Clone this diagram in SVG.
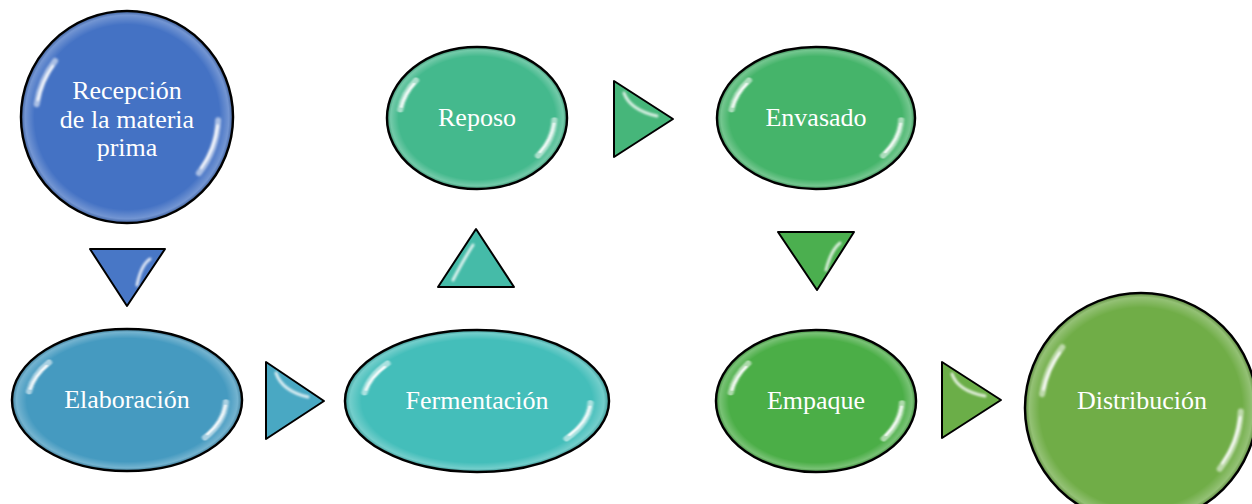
<svg xmlns="http://www.w3.org/2000/svg" width="1252" height="504" viewBox="0 0 1252 504">
<defs>
<style>
.body{stroke:#000;stroke-width:2.5}
.rim{fill:url(#rim);stroke:none}
.hl{fill:none;stroke:#fff;stroke-linecap:round;vector-effect:non-scaling-stroke}
.lbl{font-family:"Liberation Serif","Times New Roman",serif;font-size:26px;fill:#fff;text-anchor:middle}
.tri{stroke:#000;stroke-width:2;stroke-linejoin:round}
.thl{fill:none;stroke:#fff;stroke-width:3;stroke-linecap:round;opacity:0.8;filter:url(#tblur)}
</style>
<radialGradient id="rim" cx="0.5" cy="0.5" r="0.5">
<stop offset="0.88" stop-color="#fff" stop-opacity="0"/>
<stop offset="0.97" stop-color="#fff" stop-opacity="0.25"/>
<stop offset="1" stop-color="#555" stop-opacity="0.25"/>
</radialGradient>
<filter id="gblur" x="-50%" y="-50%" width="200%" height="200%">
<feGaussianBlur stdDeviation="0.01"/>
</filter>
<filter id="tblur" x="-50%" y="-50%" width="200%" height="200%">
<feGaussianBlur stdDeviation="0.8"/>
</filter>
<g id="gloss" filter="url(#gblur)">
<path class="hl" d="M -0.852 -0.12 A 0.86 0.86 0 0 1 -0.678 -0.53" stroke-width="6" opacity="0.55"/>
<path class="hl" d="M -0.84 -0.16 A 0.86 0.86 0 0 1 -0.7 -0.48" stroke-width="2.5" opacity="0.95"/>
<path class="hl" d="M 0.86 0.03 A 0.86 0.86 0 0 1 0.678 0.53" stroke-width="6" opacity="0.55"/>
<path class="hl" d="M 0.855 0.08 A 0.86 0.86 0 0 1 0.7 0.48" stroke-width="2.5" opacity="0.95"/>
</g>
</defs>

<g id="connectors">
<g id="arrow-1-2">
<polygon class="tri" fill="#4877C6" points="90,249 165,249 127,306"/>
<path class="thl" d="M150 259 Q141 265 137 285"/>
</g>
<g id="arrow-2-3">
<polygon class="tri" fill="#49A8C3" points="266,362 266,439 324,401"/>
<path class="thl" d="M276 373 Q282 391 308 397"/>
</g>
<g id="arrow-3-4">
<polygon class="tri" fill="#45BBA8" points="438,287 514,287 476,229"/>
<path class="thl" d="M473 245 Q464 259 453 280"/>
</g>
<g id="arrow-4-5">
<polygon class="tri" fill="#46B67A" points="614,81 614,157 673,119"/>
<path class="thl" d="M624 93 Q630 110 657 116"/>
</g>
<g id="arrow-5-6">
<polygon class="tri" fill="#4BAF4F" points="778,232 854,232 817,290"/>
<path class="thl" d="M840 243 Q831 250 826 270"/>
</g>
<g id="arrow-6-7">
<polygon class="tri" fill="#6BAE48" points="942,362 942,438 1001,400"/>
<path class="thl" d="M952 374 Q958 391 985 396"/>
</g>
</g>

<g id="node-recepcion">
<ellipse class="body" cx="127" cy="117" rx="106" ry="106" fill="#4472C4"/>
<ellipse class="rim" cx="127" cy="117" rx="105" ry="105"/>
<use href="#gloss" transform="translate(127,117) scale(106,106)"/>
<text class="lbl" x="127" y="99">Recepción</text>
<text class="lbl" x="127" y="128">de la materia</text>
<text class="lbl" x="127" y="156">prima</text>
</g>

<g id="node-elaboracion">
<ellipse class="body" cx="127" cy="400" rx="115" ry="71" fill="#459AC0"/>
<ellipse class="rim" cx="127" cy="400" rx="114" ry="70"/>
<use href="#gloss" transform="translate(127,400) scale(115,71)"/>
<text class="lbl" x="127" y="408">Elaboración</text>
</g>

<g id="node-fermentacion">
<ellipse class="body" cx="477" cy="401" rx="132" ry="71" fill="#44BEBA"/>
<ellipse class="rim" cx="477" cy="401" rx="131" ry="70"/>
<use href="#gloss" transform="translate(477,401) scale(132,71)"/>
<text class="lbl" x="477" y="409">Fermentación</text>
</g>

<g id="node-reposo">
<ellipse class="body" cx="477" cy="118" rx="90" ry="71" fill="#44B98D"/>
<ellipse class="rim" cx="477" cy="118" rx="89" ry="70"/>
<use href="#gloss" transform="translate(477,118) scale(90,71)"/>
<text class="lbl" x="477" y="126">Reposo</text>
</g>

<g id="node-envasado">
<ellipse class="body" cx="816" cy="118" rx="99" ry="71" fill="#45B46A"/>
<ellipse class="rim" cx="816" cy="118" rx="98" ry="70"/>
<use href="#gloss" transform="translate(816,118) scale(99,71)"/>
<text class="lbl" x="816" y="126">Envasado</text>
</g>

<g id="node-empaque">
<ellipse class="body" cx="816" cy="401" rx="100" ry="71" fill="#4BAE47"/>
<ellipse class="rim" cx="816" cy="401" rx="99" ry="70"/>
<use href="#gloss" transform="translate(816,401) scale(100,71)"/>
<text class="lbl" x="816" y="409">Empaque</text>
</g>

<g id="node-distribucion">
<ellipse class="body" cx="1141" cy="408" rx="116" ry="115" fill="#70AD47"/>
<ellipse class="rim" cx="1141" cy="408" rx="115" ry="114"/>
<use href="#gloss" transform="translate(1141,408) scale(116,115)"/>
<text class="lbl" x="1142" y="409">Distribución</text>
</g>
</svg>
